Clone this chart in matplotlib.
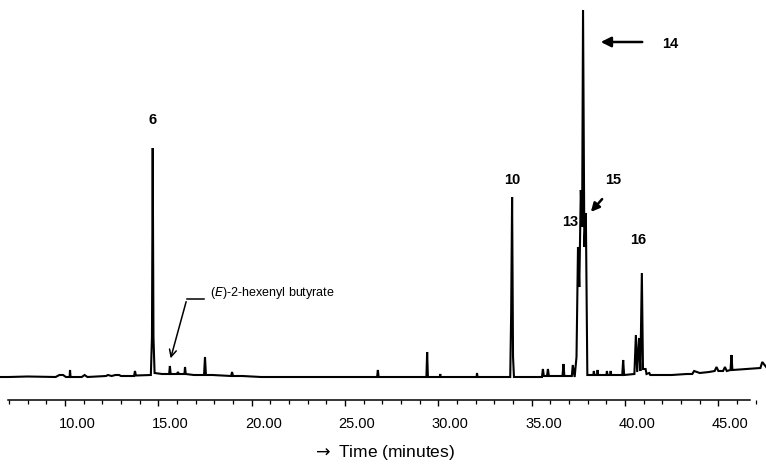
import matplotlib; matplotlib.use("Agg")
import matplotlib.pyplot as plt
from matplotlib.ticker import MultipleLocator
from matplotlib.transforms import ScaledTranslation

# chromatogram trace: retention time (min) and detector signal (arb.)
time = [6.5, 7.0, 8.0, 9.5, 9.7, 9.9, 10.05, 10.25, 10.27, 10.3, 10.9, 11.05, 11.2,
        12.2, 12.3, 12.5, 12.7, 12.9, 13.0, 13.7, 13.75, 13.8, 14.6, 14.66, 14.7, 14.74,
        14.8, 15.2, 15.58, 15.62, 15.66, 16.0, 16.05, 16.1, 16.4, 16.43, 16.47, 16.9,
        17.45, 17.5, 17.55, 17.9, 18.9, 18.95, 19.0, 19.5, 20.5, 26.72, 26.76, 26.8,
        29.36, 29.4, 29.44, 30.08, 30.1, 30.12, 32.05, 32.07, 32.1, 33.85, 33.9, 33.95,
        34.0, 34.05, 35.55, 35.6, 35.65, 35.82, 35.87, 35.92, 36.65, 36.7, 36.75,
        37.15, 37.2, 37.3, 37.4, 37.48, 37.55, 37.63, 37.7, 37.75, 37.82, 37.9, 37.98,
        38.3, 38.33, 38.36, 38.5, 38.53, 38.56, 39.0, 39.03, 39.06, 39.2, 39.23, 39.26,
        39.85, 39.9, 39.95, 40.5, 40.58, 40.65, 40.75, 40.82, 40.9, 40.96, 41.1, 41.15,
        41.3, 41.35, 42.5, 43.3, 43.6, 43.7, 44.0, 44.5, 44.8, 44.9, 45.0, 45.25, 45.35,
        45.45, 45.65, 45.7, 45.75, 46.5, 47.25, 47.35, 47.6]
signal = [0, 0, 0.5, 0, 2, 2, 0, 0, 7, 0, 0, 2, 0,
          1, 2, 1, 2, 2, 1, 1, 6, 1.5, 2, 40, 229, 40,
          4, 3, 3, 11, 3, 3, 5, 3, 3, 10, 3, 2,
          2, 20, 2, 2, 1, 5, 1, 1, 0, 0, 7, 0,
          0, 25, 0, 0, 3, 0, 0, 4, 0, 0, 64, 180,
          20, 0, 0, 8, 1, 1, 8, 1, 1, 13, 1,
          1, 12, 0, 20, 130, 90, 187, 150, 367, 130, 164, 2,
          2, 6, 2, 2, 7, 2, 2, 6, 2, 2, 6, 2,
          2, 17, 2, 3, 42, 5, 39, 6, 104, 8, 8, 3,
          4, 2, 2, 3, 3, 6, 4, 5, 6, 10, 6, 6, 10,
          6, 7, 22, 7, 8, 9, 15, 9]

major_ticks = [10, 15, 20, 25, 30, 35, 40, 45]
tick_labels = ["10.00", "15.00", "20.00", "25.00", "30.00", "35.00", "40.00", "45.00"]

# peak numbers: label, time, signal position
peak_labels = ["6", "10", "13", "15", "16", "14"]
peak_label_t = [14.7, 33.94, 37.05, 39.35, 40.69, 42.4]
peak_label_y = [257, 197, 155, 197, 137, 333]

fig = plt.figure(figsize=(7.66, 4.69), dpi=100)
ax = fig.add_axes([0, 69 / 469, 1, 1 - 69 / 469])
ax.plot(time, signal, color="black", lw=1.5, solid_joinstyle="miter")
ax.set_xlim(6.52, 47.55)
ax.set_ylim(-23, 377)

for s in ["left", "right", "top"]:
    ax.spines[s].set_visible(False)
ax.spines["bottom"].set_bounds(6.95, 46.7)
ax.spines["bottom"].set_linewidth(1.1)
ax.set_yticks([])
ax.set_xticks(major_ticks)
ax.set_xticklabels(tick_labels, fontsize=10.5, family="Liberation Sans")
ax.xaxis.set_minor_locator(MultipleLocator(1))
ax.tick_params(axis="x", which="major", length=4, width=1, pad=8)
ax.tick_params(axis="x", which="minor", length=3, width=0.9)
shift = ScaledTranslation(12 / 100, 0, fig.dpi_scale_trans)
for lab in ax.get_xticklabels():
    lab.set_transform(lab.get_transform() + shift)

fig.text(0.5, 0.035, r"$\rightarrow$ Time (minutes)", ha="center", va="center",
         fontsize=12.5, family="Liberation Sans")

for lab, t, y in zip(peak_labels, peak_label_t, peak_label_y):
    ax.text(t, y, lab, ha="center", va="center", fontsize=10.5, fontweight="bold",
            family="Liberation Sans")

# arrows to peaks 14 and 15
ax.annotate("", xy=(38.55, 335), xytext=(41.07, 335),
            arrowprops=dict(arrowstyle="-|>,head_length=0.6,head_width=0.3", lw=1.8, color="black"))
ax.annotate("", xy=(38.07, 163), xytext=(38.87, 180),
            arrowprops=dict(arrowstyle="-|>,head_length=0.5,head_width=0.25", lw=1.8, color="black"))

# (E)-2-hexenyl butyrate
ax.text(17.77, 84, r"($\it{E}$)-2-hexenyl butyrate", ha="left", va="center", fontsize=9,
        family="Liberation Sans")
ax.plot([17.45, 16.53], [78, 78], color="black", lw=1.1)
ax.annotate("", xy=(15.62, 16), xytext=(16.53, 78),
            arrowprops=dict(arrowstyle="->,head_length=0.5,head_width=0.25", lw=1.1, color="black"))

fig.savefig("out.png", dpi=100)
